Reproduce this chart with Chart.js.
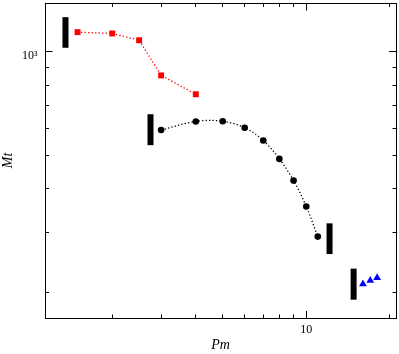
<!DOCTYPE html>
<html>
<head>
<meta charset="utf-8">
<script src="https://cdn.jsdelivr.net/npm/chart.js@4/dist/chart.umd.min.js"></script>
<style>
html,body{margin:0;padding:0;background:#fff;}
canvas{display:block;}
</style>
</head>
<body>
<canvas id="c" width="399" height="354"></canvas>
<script>
// ---- data ----
const redX = [1.5, 2, 2.5, 3, 4];
const redY = [1140, 1130, 1080, 854, 753];
const blackX = [3, 4, 5, 6, 7, 8, 9, 10, 11];
const blackY = [593, 628, 629, 602, 553, 489, 423, 356, 291];
const blueX = [16, 17, 18];
const blueY = [212, 217, 221];
const barX = [1.357, 2.747, 12.13, 14.81];
const barLow = [1027, 536, 259, 191];
const barHigh = [1260, 659, 318, 235];
const xTickVals = [2, 3, 4, 5, 6, 7, 8, 9, 10, 20];
const yTickVals = [200, 300, 400, 500, 600, 700, 800, 900, 1000];
const xMajor = [10];
const yMajor = [1000];
const xLabels = {10: '10'};
const yLabels = {1000: ['', '10\u00B3']};
const xTitle = 'Pm';
const yTitle = 'Mt';

const pts = (xs, ys) => xs.map((x, i) => ({x: x, y: ys[i]}));

const barSets = barX.map((x, i) => ({
  data: [{x: x, y: barLow[i]}, {x: x, y: barHigh[i]}],
  showLine: true, borderColor: '#000', borderWidth: 6, borderCapStyle: 'butt',
  pointRadius: 0, fill: false
}));

function gridCfg(fromBorder, majors) {
  return {
    display: true, drawOnChartArea: false, drawTicks: true, tickLength: -8,
    color: '#000', tickColor: '#000', tickWidth: 1,
    tickBorderDash: (ctx) => {
      const v = ctx.tick ? ctx.tick.value : null;
      const len = majors.includes(v) ? 8 : 4.5;
      return fromBorder ? [len, 100] : [0, 8.5 - len, len, 100];
    }
  };
}
const setTicks = (vals) => (s) => { s.ticks = vals.map(v => ({value: v})); };
const fitTo = (prop, size) => (s) => {
  s[prop] = size;
  s.paddingTop = s.paddingBottom = s.paddingLeft = s.paddingRight = 0;
};
const border = {display: true, color: '#000', width: 1};
const tickFont = {family: 'Liberation Serif', size: 12};
const yTickFont = {family: 'Liberation Serif', size: 12, lineHeight: 0.6};
const titleFont = {family: 'Liberation Serif', size: 14, style: 'italic'};

new Chart(document.getElementById('c'), {
  type: 'scatter',
  data: {
    datasets: [
      {data: pts(redX, redY), showLine: true, borderColor: '#ff0000', borderWidth: 1.3,
       borderDash: [1.3, 2.2], pointStyle: 'rect', pointRadius: 4.2,
       backgroundColor: '#ff0000', pointBorderColor: '#ff0000', pointBorderWidth: 0},
      {data: pts(blackX, blackY), showLine: true, borderColor: '#000', borderWidth: 1.3,
       borderDash: [1.3, 2.2], tension: 0.35, pointStyle: 'circle', pointRadius: 3.3,
       backgroundColor: '#000', pointBorderColor: '#000', pointBorderWidth: 0},
      {data: pts(blueX, blueY), showLine: false, pointStyle: 'triangle', pointRadius: 4.5,
       backgroundColor: '#0000ff', pointBorderColor: '#0000ff', pointBorderWidth: 0},
      ...barSets
    ]
  },
  options: {
    responsive: false, animation: false,
    layout: {autoPadding: false, padding: {top: 3, right: 3, left: 0, bottom: 0}},
    plugins: {legend: {display: false}, tooltip: {enabled: false}},
    scales: {
      x: {
        type: 'logarithmic', position: 'bottom', min: 1.145, max: 21.05,
        border: border, grid: gridCfg(true, xMajor),
        afterBuildTicks: setTicks(xTickVals),
        afterFit: fitTo('height', 36),
        ticks: {autoSkip: false, maxRotation: 0, padding: 12.8, color: '#000', font: tickFont,
                callback: (v) => xLabels[v] || ''},
        title: {display: true, text: xTitle, color: '#000', font: titleFont, padding: 0}
      },
      y: {
        type: 'logarithmic', position: 'left', min: 169, max: 1385,
        border: border, grid: gridCfg(false, yMajor),
        afterBuildTicks: setTicks(yTickVals),
        afterFit: fitTo('width', 45),
        ticks: {autoSkip: false, padding: 15.5, color: '#000', font: yTickFont,
                callback: (v) => yLabels[v] || ''},
        title: {display: true, text: yTitle, color: '#000', font: titleFont, padding: 0}
      },
      x2: {
        type: 'logarithmic', position: 'top', min: 1.145, max: 21.05,
        border: border, grid: gridCfg(false, xMajor),
        afterBuildTicks: setTicks(xTickVals),
        afterFit: fitTo('height', 0),
        ticks: {display: false}
      },
      y2: {
        type: 'logarithmic', position: 'right', min: 169, max: 1385,
        border: border, grid: gridCfg(true, yMajor),
        afterBuildTicks: setTicks(yTickVals),
        afterFit: fitTo('width', 0),
        ticks: {display: false}
      }
    }
  }
});
</script>
</body>
</html>
